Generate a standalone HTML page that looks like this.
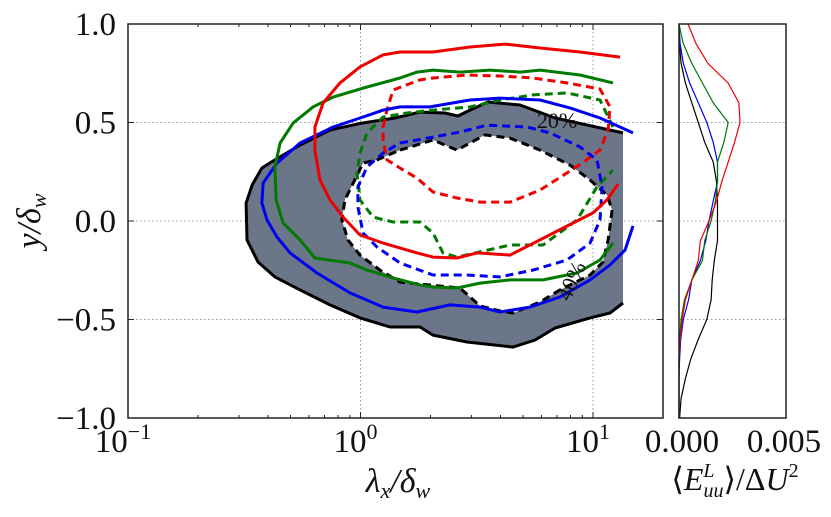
<!DOCTYPE html>
<html><head><meta charset="utf-8"><style>
body{margin:0;background:#fff}
svg text{font-family:"Liberation Serif","DejaVu Serif",serif;fill:#111}
</style></head><body>
<svg id="chart" width="831" height="512" viewBox="0 0 831 512" xmlns="http://www.w3.org/2000/svg">
<g id="main"></g>
<g id="side"></g>
</svg>
<script>
// ---- data (log10(lambda_x/delta_w), y/delta_w) ----
const outerLx=[1.129,0.837,0.686,0.548,0.471,0.419,0.363,0.256,0.148,0.006,-0.131,-0.260,-0.368,-0.424,-0.466,-0.492,-0.488,-0.441,-0.368,-0.260,-0.131,-0.002,0.127,0.256,0.312,0.458,0.656,0.751,0.837,0.987,1.073,1.129];
const outerY=[0.447,0.523,0.589,0.604,0.563,0.533,0.548,0.553,0.523,0.497,0.462,0.386,0.310,0.269,0.183,0.091,-0.096,-0.208,-0.284,-0.350,-0.426,-0.492,-0.538,-0.538,-0.579,-0.614,-0.640,-0.604,-0.543,-0.492,-0.467,-0.416];
const holeLx=[0.170,0.312,0.415,0.535,0.643,0.772,0.901,0.987,1.060,1.082,1.065,1.043,0.987,0.858,0.772,0.656,0.600,0.514,0.428,0.299,0.170,0.084,-0.002,-0.054,-0.080,-0.067,0.011,0.071];
const holeY=[0.360,0.411,0.360,0.437,0.421,0.360,0.284,0.208,0.132,0.056,-0.096,-0.208,-0.274,-0.350,-0.411,-0.467,-0.457,-0.431,-0.340,-0.325,-0.310,-0.249,-0.173,-0.096,0.005,0.107,0.294,0.310];
const blueLx=[1.172,1.030,0.901,0.772,0.600,0.471,0.299,0.170,0.097,0.011,-0.118,-0.260,-0.359,-0.419,-0.424,-0.402,-0.359,-0.303,-0.187,-0.045,0.097,0.243,0.385,0.514,0.600,0.729,0.858,0.987,1.073,1.138,1.172];
const blueY=[0.447,0.523,0.574,0.614,0.624,0.614,0.579,0.579,0.563,0.528,0.477,0.396,0.294,0.193,0.091,0.005,-0.081,-0.162,-0.264,-0.365,-0.437,-0.462,-0.426,-0.437,-0.462,-0.437,-0.386,-0.299,-0.223,-0.147,-0.025];
const greenLx=[1.086,0.944,0.772,0.686,0.557,0.428,0.312,0.243,0.170,0.028,-0.118,-0.204,-0.290,-0.346,-0.368,-0.363,-0.333,-0.260,-0.196,-0.045,0.028,0.140,0.256,0.312,0.415,0.514,0.643,0.785,0.931,1.030,1.086];
const greenY=[0.701,0.741,0.766,0.756,0.766,0.756,0.766,0.756,0.726,0.680,0.629,0.579,0.497,0.396,0.274,0.107,-0.010,-0.096,-0.188,-0.213,-0.249,-0.289,-0.325,-0.335,-0.340,-0.315,-0.299,-0.299,-0.264,-0.198,-0.112];
const redLx=[1.116,0.944,0.772,0.622,0.471,0.312,0.170,0.097,-0.002,-0.088,-0.161,-0.196,-0.196,-0.174,-0.131,-0.075,-0.002,0.097,0.243,0.312,0.415,0.501,0.643,0.772,0.914,1.000,1.060,1.108];
const redY=[0.832,0.858,0.878,0.898,0.883,0.858,0.858,0.843,0.782,0.701,0.599,0.477,0.360,0.208,0.107,0.020,-0.071,-0.112,-0.162,-0.183,-0.188,-0.162,-0.173,-0.096,-0.010,0.041,0.107,0.188];
const redDashLx=[0.097,0.114,0.140,0.256,0.312,0.458,0.600,0.742,0.888,1.030,1.073,1.065,1.030,0.953,0.888,0.772,0.643,0.514,0.415,0.312,0.243,0.170,0.114,0.097];
const redDashY=[0.477,0.563,0.665,0.716,0.726,0.741,0.736,0.726,0.701,0.670,0.579,0.462,0.360,0.294,0.244,0.157,0.096,0.096,0.117,0.147,0.218,0.269,0.310,0.411];
const greenDashLx=[1.086,1.030,0.888,0.742,0.600,0.471,0.312,0.200,0.097,0.028,-0.002,-0.015,-0.002,0.054,0.140,0.256,0.312,0.355,0.415,0.514,0.643,0.785,0.931,1.017,1.086];
const greenDashY=[0.477,0.614,0.650,0.640,0.614,0.579,0.563,0.548,0.528,0.447,0.345,0.244,0.107,0.020,-0.005,-0.005,-0.061,-0.162,-0.183,-0.157,-0.122,-0.122,0.005,0.173,0.259];
const blueDashLx=[0.170,0.312,0.428,0.544,0.716,0.815,0.944,1.017,1.039,1.030,0.987,0.888,0.742,0.600,0.458,0.312,0.170,0.071,0.011,-0.011,-0.011,0.028,0.097];
const blueDashY=[0.396,0.426,0.452,0.487,0.477,0.447,0.376,0.310,0.173,0.005,-0.112,-0.198,-0.249,-0.284,-0.274,-0.274,-0.213,-0.132,-0.061,0.071,0.173,0.274,0.345];
// side profile: E/dU^2 (x1e-3) at y levels
const sideY=[1,0.9,0.8,0.7,0.6,0.5,0.4,0.3,0.2,0.1,0,-0.1,-0.2,-0.3,-0.4,-0.5,-0.6,-0.7,-0.8,-0.9,-1];
const sideRed=[0.42,0.8,1.35,2.3,2.8,2.85,2.6,2.3,2.0,1.75,1.4,1.0,0.9,0.6,0.3,0.15,0.05,0,0,0,0];
const sideGreen=[0,0.2,0.6,1.1,1.6,2.3,2.1,1.8,1.8,1.7,1.5,1.2,1.1,0.6,0.25,0.1,0.03,0,0,0,0];
const sideBlue=[0,0.05,0.2,0.5,0.9,1.3,1.6,1.8,1.8,1.6,1.4,1.25,1.0,0.6,0.45,0.2,0.08,0.03,0,0,0];
const sideBlack=[0,0.02,0.1,0.3,0.6,0.9,1.2,1.6,1.75,1.8,1.8,1.8,1.65,1.55,1.5,1.3,0.9,0.55,0.3,0.1,0.03];
const yTicks=[1,0.5,0,-0.5,-1];
const yTickLabels=["1.0","0.5","0.0","\u22120.5","\u22121.0"];
const xDecades=[-1,0,1];

// ---- axes ----
const L=128,R=663,T=24,B=418;
const X=lx=>360.5+lx*232.5;
const Y=y=>221-y*197;
const SL=679,SR=786;
const SX=e=>SL+e*0.001/0.005*(SR-SL);
const NS="http://www.w3.org/2000/svg";
const main=document.getElementById('main'),side=document.getElementById('side');
function mk(tag,attrs,parent){const e=document.createElementNS(NS,tag);for(const k in attrs)e.setAttribute(k,attrs[k]);parent.appendChild(e);return e;}
function pts(xs,ys){return xs.map((v,i)=>X(v).toFixed(1)+','+Y(ys[i]).toFixed(1));}

// grid
yTicks.slice(1,4).forEach(v=>{
  const g=mk('line',{x1:L,x2:R,y1:Y(v),y2:Y(v),stroke:'#999','stroke-dasharray':'1.5,2.5','stroke-width':1},main);
  
  
  const g2=mk('line',{x1:SL,x2:SR,y1:Y(v),y2:Y(v),stroke:'#999','stroke-dasharray':'1.5,2.5','stroke-width':1},side);
  
  
});
[0,1].forEach(d=>{
  const g=mk('line',{x1:X(d),x2:X(d),y1:T,y2:B,stroke:'#999','stroke-dasharray':'1.5,2.5','stroke-width':1},main);
  
  
});

// filled region
const fp='M'+pts(outerLx,outerY).join('L')+'Z M'+pts(holeLx,holeY).join('L')+'Z';
const fill=mk('path',{d:fp,fill:'#6c7689','fill-rule':'evenodd',stroke:'none'},main);


const ol=mk('polyline',{points:pts(outerLx,outerY).join(' '),fill:'none',stroke:'#000','stroke-width':3,'stroke-linejoin':'round'},main);


const hl=mk('polygon',{points:pts(holeLx,holeY).join(' '),fill:'none',stroke:'#000','stroke-width':3,'stroke-dasharray':'8,5'},main);



function line(xs,ys,color,dashed,closed,name){
  const e=mk(closed?'polygon':'polyline',{points:pts(xs,ys).join(' '),fill:'none',stroke:color,'stroke-width':3,'stroke-linejoin':'round'},main);
  if(dashed)e.setAttribute('stroke-dasharray','8,5');
  
  
}
line(redDashLx,redDashY,'#ee0000',true,true,'red-dashed-contour');
line(greenDashLx,greenDashY,'#007a00',true,false,'green-dashed-contour');
line(blueDashLx,blueDashY,'#0000ee',true,true,'blue-dashed-contour');
line(blueLx,blueY,'#0000ee',false,false,'blue-solid-contour');
line(greenLx,greenY,'#007a00',false,false,'green-solid-contour');
line(redLx,redY,'#ee0000',false,false,'red-solid-contour');

// contour labels
const t20=mk('text',{x:557,y:128,'font-size':22,fill:'#333','text-anchor':'middle'},main);t20.textContent='20%';


const t40=mk('text',{x:0,y:0,'font-size':22,fill:'#333','text-anchor':'middle',transform:'translate(578,284) rotate(-65)'},main);t40.textContent='40%';



// main frame
const fr=mk('rect',{x:L,y:T,width:R-L,height:B-T,fill:'none',stroke:'#222','stroke-width':1.5},main);


// x minor/major ticks
xDecades.forEach(d=>{
  for(let m=1;m<10;m++){
    const lx=d+Math.log10(m); const px=X(lx); if(px>R)continue;
    const len=m===1?6:3;
    mk('line',{x1:px,x2:px,y1:B,y2:B-len,stroke:'#222','stroke-width':1},main);
    mk('line',{x1:px,x2:px,y1:T,y2:T+len,stroke:'#222','stroke-width':1},main);
  }
  const tl=mk('text',{x:X(d)-5,y:452,'font-size':33,'text-anchor':'middle'},main);
  
  
  tl.appendChild(document.createTextNode('10'));
  const sup=mk('tspan',{dy:-13,'font-size':22},tl);sup.textContent=d<0?'\u22121':String(d);
});
yTicks.forEach((v,i)=>{
  mk('line',{x1:L,x2:L+6,y1:Y(v),y2:Y(v),stroke:'#222'},main);
  mk('line',{x1:R,x2:R-6,y1:Y(v),y2:Y(v),stroke:'#222'},main);
  const tl=mk('text',{x:116,y:Y(v)+11,'font-size':33,'text-anchor':'end'},main);
  tl.textContent=yTickLabels[i];
  
  
});
// axis titles
const xt=mk('text',{x:398,y:492,'font-size':34,'text-anchor':'middle','font-style':'italic'},main);


xt.innerHTML='λ<tspan dy="6" font-size="22">x</tspan><tspan dy="-6">/δ</tspan><tspan dy="6" font-size="22">w</tspan>';
const yt=mk('text',{x:0,y:0,'font-size':34,'text-anchor':'middle','font-style':'italic',transform:'translate(40,221) rotate(-90)'},main);


yt.innerHTML='y/δ<tspan dy="6" font-size="22">w</tspan>';

// side profiles
function sline(vals,color,name){
  const p=vals.map((v,i)=>SX(v).toFixed(1)+','+Y(sideY[i]).toFixed(1)).join(' ');
  const e=mk('polyline',{points:p,fill:'none',stroke:color,'stroke-width':1.2},side);
  
  
}
sline(sideBlack,'#000','side-black-profile');
sline(sideBlue,'#0000ee','side-blue-profile');
sline(sideGreen,'#007a00','side-green-profile');
sline(sideRed,'#ee0000','side-red-profile');
const sf=mk('rect',{x:SL,y:T,width:SR-SL,height:B-T,fill:'none',stroke:'#222','stroke-width':1.5},side);


[[0,'0.000',SL+3],[5,'0.005',SR-2]].forEach(([v,lab,px])=>{
  const tl=mk('text',{x:px,y:452,'font-size':33,'text-anchor':'middle'},side);
  tl.textContent=lab;
  
  
});
const st=mk('text',{x:735,y:490,'font-size':32,'text-anchor':'middle'},side);


st.innerHTML='⟨<tspan font-style="italic">E</tspan><tspan dy="-13" font-size="20" font-style="italic">L</tspan><tspan dy="20" dx="-11" font-size="20" font-style="italic">uu</tspan><tspan dy="-7">⟩/Δ</tspan><tspan font-style="italic">U</tspan><tspan dy="-13" font-size="20">2</tspan>';
</script>
</body></html>
